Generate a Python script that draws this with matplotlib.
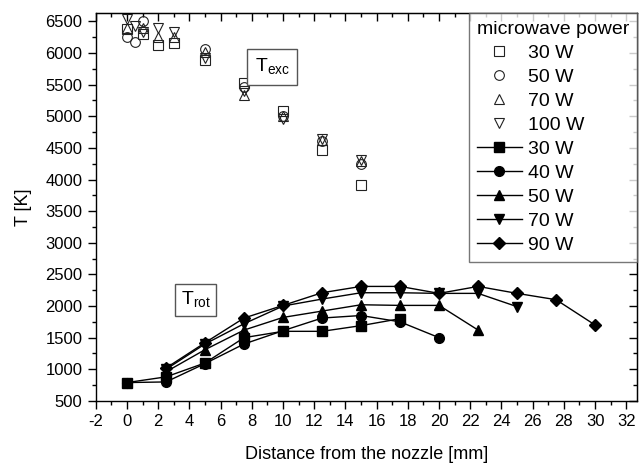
import numpy as np
import matplotlib.pyplot as plt
from matplotlib.ticker import MultipleLocator

plt.rcParams['font.family'] = ['Liberation Sans', 'DejaVu Sans']
plt.rcParams['axes.unicode_minus'] = False

# T_exc (open symbols), microwave power 30/50/70/100 W
exc_labels = ['30 W', '50 W', '70 W', '100 W']
exc_markers = ['s', 'o', '^', 'v']
exc_x = [
    [0, 1, 2, 3, 5, 7.5, 10, 12.5, 15],
    [0, 0.5, 1, 5, 7.5, 10, 12.5, 15],
    [0, 1, 2, 3, 5, 7.5, 10, 12.5, 15],
    [0, 0.5, 1, 2, 3, 5, 7.5, 10, 12.5, 15],
]
exc_y = [
    [6380, 6300, 6130, 6160, 5890, 5530, 5080, 4460, 3910],
    [6250, 6180, 6510, 6060, 5460, 5010, 4610, 4250],
    [6400, 6400, 6260, 6250, 6020, 5330, 5000, 4620, 4290],
    [6530, 6420, 6330, 6390, 6330, 5920, 5400, 4950, 4640, 4310],
]

# T_rot (filled symbols with lines), microwave power 30/40/50/70/90 W
rot_labels = ['30 W', '40 W', '50 W', '70 W', '90 W']
rot_markers = ['s', 'o', '^', 'v', 'D']
rot_x = [
    [0, 2.5, 5, 7.5, 10, 12.5, 15, 17.5],
    [0, 2.5, 5, 7.5, 10, 12.5, 15, 17.5, 20],
    [2.5, 5, 7.5, 10, 12.5, 15, 17.5, 20, 22.5],
    [2.5, 5, 7.5, 10, 12.5, 15, 17.5, 20, 22.5, 25],
    [2.5, 5, 7.5, 10, 12.5, 15, 17.5, 20, 22.5, 25, 27.5, 30],
]
rot_y = [
    [790, 880, 1100, 1500, 1600, 1600, 1690, 1800],
    [790, 800, 1090, 1400, 1610, 1810, 1850, 1750, 1500],
    [960, 1310, 1620, 1820, 1920, 2020, 2010, 2010, 1620],
    [1000, 1400, 1720, 2000, 2110, 2210, 2210, 2200, 2200, 1990],
    [1020, 1420, 1810, 2010, 2210, 2310, 2310, 2200, 2310, 2200, 2100, 1700],
]

fig = plt.figure(figsize=(6.43, 4.70), dpi=100)
ax = fig.add_axes([0.149, 0.147, 0.842, 0.825])

for x, y, m, lab in zip(exc_x, exc_y, exc_markers, exc_labels):
    ax.plot(x, y, linestyle='none', marker=m, markersize=7, markerfacecolor='none',
            markeredgecolor='#222222', markeredgewidth=0.8, label=lab)

for x, y, m, lab in zip(rot_x, rot_y, rot_markers, rot_labels):
    ax.plot(x, y, '-', color='black', linewidth=1.0, marker=m,
            markersize=7 if m != 'D' else 6.5, label=lab)

ax.text(9.3, 5780, r'T$_{\mathregular{exc}}$', fontsize=14, ha='center', va='center',
        bbox=dict(boxstyle='square,pad=0.4', facecolor='white', edgecolor='#555555'))
ax.text(4.4, 2090, r'T$_{\mathregular{rot}}$', fontsize=14, ha='center', va='center',
        bbox=dict(boxstyle='square,pad=0.3', facecolor='white', edgecolor='#555555'))

ax.set_xlim(-2, 32.7)
ax.set_ylim(500, 6630)
ax.xaxis.set_major_locator(MultipleLocator(2))
ax.xaxis.set_minor_locator(MultipleLocator(1))
ax.yaxis.set_major_locator(MultipleLocator(500))
ax.yaxis.set_minor_locator(MultipleLocator(250))
ax.tick_params(which='both', direction='out', labelsize=12, width=1)
ax.tick_params(which='major', length=6)
ax.tick_params(which='minor', length=3)

# mirrored ticks pointing inward on top and right
top = ax.secondary_xaxis('top')
top.xaxis.set_major_locator(MultipleLocator(2))
top.xaxis.set_minor_locator(MultipleLocator(1))
top.tick_params(which='both', direction='in', labeltop=False, width=1)
top.tick_params(which='major', length=6)
top.tick_params(which='minor', length=3)
right = ax.secondary_yaxis('right')
right.yaxis.set_major_locator(MultipleLocator(500))
right.yaxis.set_minor_locator(MultipleLocator(250))
right.tick_params(which='both', direction='in', labelright=False, width=1)
right.tick_params(which='major', length=6)
right.tick_params(which='minor', length=3)

for s in ax.spines.values():
    s.set_linewidth(1)

ax.set_xlabel('Distance from the nozzle [mm]', fontsize=13, labelpad=12)
ax.set_ylabel('T [K]', fontsize=13, labelpad=10)

leg = ax.legend(title='microwave power', loc='upper right', fontsize=14, title_fontsize=14,
                frameon=True, fancybox=False, edgecolor='#555555', borderaxespad=0.0,
                handlelength=2.3, handletextpad=0.3, labelspacing=0.33, borderpad=0.4)
leg._legend_box.align = 'left'
leg.get_frame().set_linewidth(1)

fig.savefig('out.png', dpi=100)
